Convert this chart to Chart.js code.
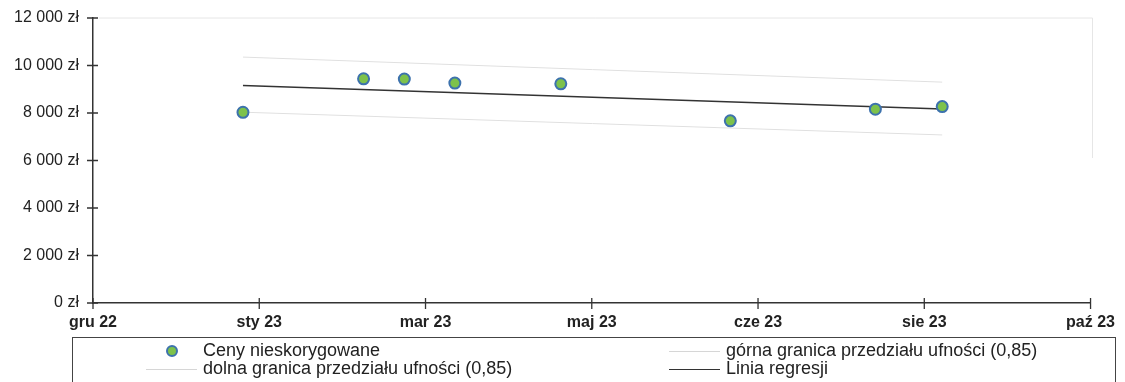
<!DOCTYPE html>
<html>
<head>
<meta charset="utf-8">
<script src="https://cdn.jsdelivr.net/npm/chart.js@4.4.0/dist/chart.umd.min.js"></script>
<style>
  body { margin: 0; background: #fff; overflow: hidden; font-family: "Liberation Sans", Arial, sans-serif; }
  #wrap { position: relative; width: 1125px; height: 382px; }
  #legend { position: absolute; left: 72px; top: 337px; width: 1044px; height: 70px; border: 1px solid #444; box-sizing: border-box; }
  .item { position: absolute; font-size: 18px; color: #222; line-height: 18px; white-space: nowrap; }
  .mark { position: absolute; }
</style>
</head>
<body>
<div id="wrap">
  <canvas id="myChart" width="1125" height="382"></canvas>
  <div id="legend"></div>
</div>
<script>
// x = days since 1 Dec 2022
const xTickLabels = ['gru 22', 'sty 23', 'mar 23', 'maj 23', 'cze 23', 'sie 23', 'paź 23'];
const priceDays = [46, 83, 95.5, 111, 143.5, 195.5, 240, 260.5];
const priceValues = [8030, 9440, 9430, 9260, 9230, 7670, 8160, 8270];
const lineDays = [46, 260.5];
const regressionValues = [9156, 8173];
const upperValues = [10354, 9300];
const lowerValues = [8034, 7076];
const labels = ['Ceny nieskorygowane', 'górna granica przedziału ufności (0,85)', 'dolna granica przedziału ufności (0,85)', 'Linia regresji'];

function pts(xs, ys) { return xs.map((x, i) => ({x: x, y: ys[i]})); }
function fmt(v) { return String(v).replace(/\B(?=(\d{3})+(?!\d))/g, ' ') + ' zł'; }

const axisColor = '#333';

const crossTicks = {
  id: 'crossTicks',
  beforeDatasetsDraw(chart) {
    const a = chart.chartArea, c = chart.ctx;
    c.save();
    c.strokeStyle = '#e6e6e6';
    c.lineWidth = 1;
    c.beginPath();
    c.moveTo(a.left + 6, a.top); c.lineTo(a.right + 2, a.top); c.lineTo(a.right + 2, a.top + 140);
    c.stroke();
    c.restore();
  },
  afterDraw(chart) {
    const c = chart.ctx, xs = chart.scales.x, ys = chart.scales.y;
    c.save();
    c.strokeStyle = axisColor;
    c.lineWidth = 1.3;
    c.beginPath();
    ys.ticks.forEach(t => {
      const y = ys.getPixelForValue(t.value);
      c.moveTo(xs.left - 6, y); c.lineTo(xs.left + 5, y);
    });
    xs.ticks.forEach(t => {
      const x = xs.getPixelForValue(t.value);
      c.moveTo(x, ys.bottom - 5); c.lineTo(x, ys.bottom + 6);
    });
    c.stroke();
    c.restore();
  }
};

const ctx = document.getElementById('myChart').getContext('2d');
const myChart = new Chart(ctx, {
  type: 'scatter',
  data: {
    datasets: [
      {
        label: labels[0],
        data: pts(priceDays, priceValues),
        backgroundColor: '#7dc24b',
        borderColor: '#3d72ad',
        borderWidth: 2,
        pointRadius: 5.5,
        order: 0
      },
      {
        label: labels[1],
        data: pts(lineDays, upperValues),
        showLine: true,
        borderColor: '#e0e0e0',
        borderWidth: 1,
        pointRadius: 0,
        order: 3
      },
      {
        label: labels[2],
        data: pts(lineDays, lowerValues),
        showLine: true,
        borderColor: '#e0e0e0',
        borderWidth: 1,
        pointRadius: 0,
        order: 3
      },
      {
        label: labels[3],
        data: pts(lineDays, regressionValues),
        showLine: true,
        borderColor: '#333',
        borderWidth: 1.5,
        pointRadius: 0,
        order: 1
      }
    ]
  },
  options: {
    responsive: false,
    animation: false,
    devicePixelRatio: 1,
    layout: { padding: { top: 18, right: 28, left: 0, bottom: 0 } },
    plugins: { legend: { display: false }, tooltip: { enabled: false } },
    scales: {
      x: {
        type: 'linear',
        min: 0,
        max: 306,
        afterFit: s => { s.height = 79; },
        afterBuildTicks: s => { s.ticks = xTickLabels.map((l, i) => ({value: i * 51})); },
        grid: { display: false, drawTicks: false },
        border: { display: true, color: axisColor, width: 1.5 },
        ticks: {
          padding: 10,
          color: '#222',
          font: { family: '"Liberation Sans", Arial', size: 16, weight: 'bold' },
          callback: (v, i) => xTickLabels[i]
        }
      },
      y: {
        min: 0,
        max: 12000,
        afterFit: s => { s.width = 93; s.paddingTop = 0; s.paddingBottom = 0; },
        grid: { display: false, drawTicks: false },
        border: { display: true, color: axisColor, width: 1.5 },
        ticks: {
          stepSize: 2000,
          padding: 14,
          color: '#222',
          font: { family: '"Liberation Sans", Arial', size: 16 },
          callback: v => fmt(v)
        }
      }
    }
  },
  plugins: [crossTicks]
});

// legend in two columns, like the original
const legendPos = [
  {x: 202, y: 13, kind: 'dot'},
  {x: 725, y: 13, kind: 'line', color: '#d6d6d6'},
  {x: 202, y: 31, kind: 'line', color: '#d6d6d6'},
  {x: 725, y: 31, kind: 'line', color: '#333'}
];
const leg = document.getElementById('legend');
labels.forEach((l, i) => {
  const p = legendPos[i];
  const m = document.createElement('div');
  m.className = 'mark';
  if (p.kind === 'dot') {
    m.style.cssText = 'left:' + (p.x - 72 - 37) + 'px;top:' + (p.y - 6) + 'px;width:8px;height:8px;border-radius:50%;background:#7dc24b;border:2px solid #3d72ad;';
  } else {
    m.style.cssText = 'left:' + (p.x - 72 - 57) + 'px;top:' + p.y + 'px;width:51px;height:0;border-top:1px solid ' + p.color + ';';
  }
  leg.appendChild(m);
  const t = document.createElement('div');
  t.className = 'item';
  t.style.left = (p.x - 72) + 'px';
  t.style.top = (p.y - 10) + 'px';
  t.textContent = l;
  leg.appendChild(t);
});
</script>
</body>
</html>
